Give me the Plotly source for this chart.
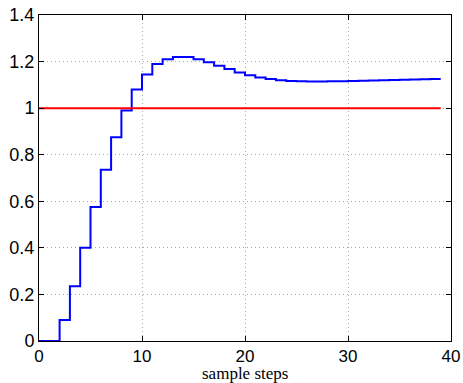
import plotly.graph_objects as go

steps = list(range(40))
response = [0, 0, 0.09, 0.235, 0.40, 0.575, 0.735, 0.875, 0.99, 1.08,
            1.145, 1.19, 1.21, 1.22, 1.22, 1.21, 1.197, 1.182, 1.168, 1.153,
            1.141, 1.132, 1.125, 1.12, 1.117, 1.115, 1.114, 1.114, 1.115, 1.116,
            1.117, 1.118, 1.119, 1.12, 1.121, 1.122, 1.123, 1.124, 1.125, 1.125]
reference = [1.0] * 40

x_ticks = [0, 10, 20, 30, 40]
y_ticks = [0, 0.2, 0.4, 0.6, 0.8, 1, 1.2, 1.4]
y_labels = ["0", "0.2", "0.4", "0.6", "0.8", "1", "1.2", "1.4"]

fig = go.Figure()
fig.add_trace(go.Scatter(x=steps, y=response, mode="lines",
                         line=dict(color="#0000ff", width=2, shape="hv"),
                         showlegend=False))
fig.add_trace(go.Scatter(x=steps, y=reference, mode="lines",
                         line=dict(color="#ff0000", width=2),
                         showlegend=False))

axis_common = dict(showline=True, linecolor="black", linewidth=1, mirror="ticks",
                   ticks="inside", ticklen=5, tickcolor="black",
                   showgrid=True, gridcolor="#a8a8a8", griddash="1px,3px", gridwidth=1,
                   zeroline=False, automargin=False)
tick_font = dict(family="Liberation Sans, Arial, sans-serif", size=18, color="black")

fig.update_xaxes(range=[0, 40], tickvals=x_ticks, tickfont=dict(tick_font, size=17), **axis_common)
fig.update_yaxes(range=[0, 1.4], tickvals=y_ticks, ticktext=y_labels, tickfont=tick_font, **axis_common)

plot_h = 383 - 15 - 42
fig.add_annotation(text="sample steps", xref="paper", yref="paper",
                   x=0.5, y=-(373 - 341) / plot_h, xanchor="center", yanchor="middle",
                   showarrow=False,
                   font=dict(family="Liberation Serif, Times New Roman, serif", size=17, color="black"))

fig.update_layout(width=463, height=383,
                  margin=dict(l=39, r=12, t=15, b=42),
                  paper_bgcolor="white", plot_bgcolor="white")

fig.write_html("out.html", config={"displayModeBar": False},
               post_script="document.body.style.margin='0';")
